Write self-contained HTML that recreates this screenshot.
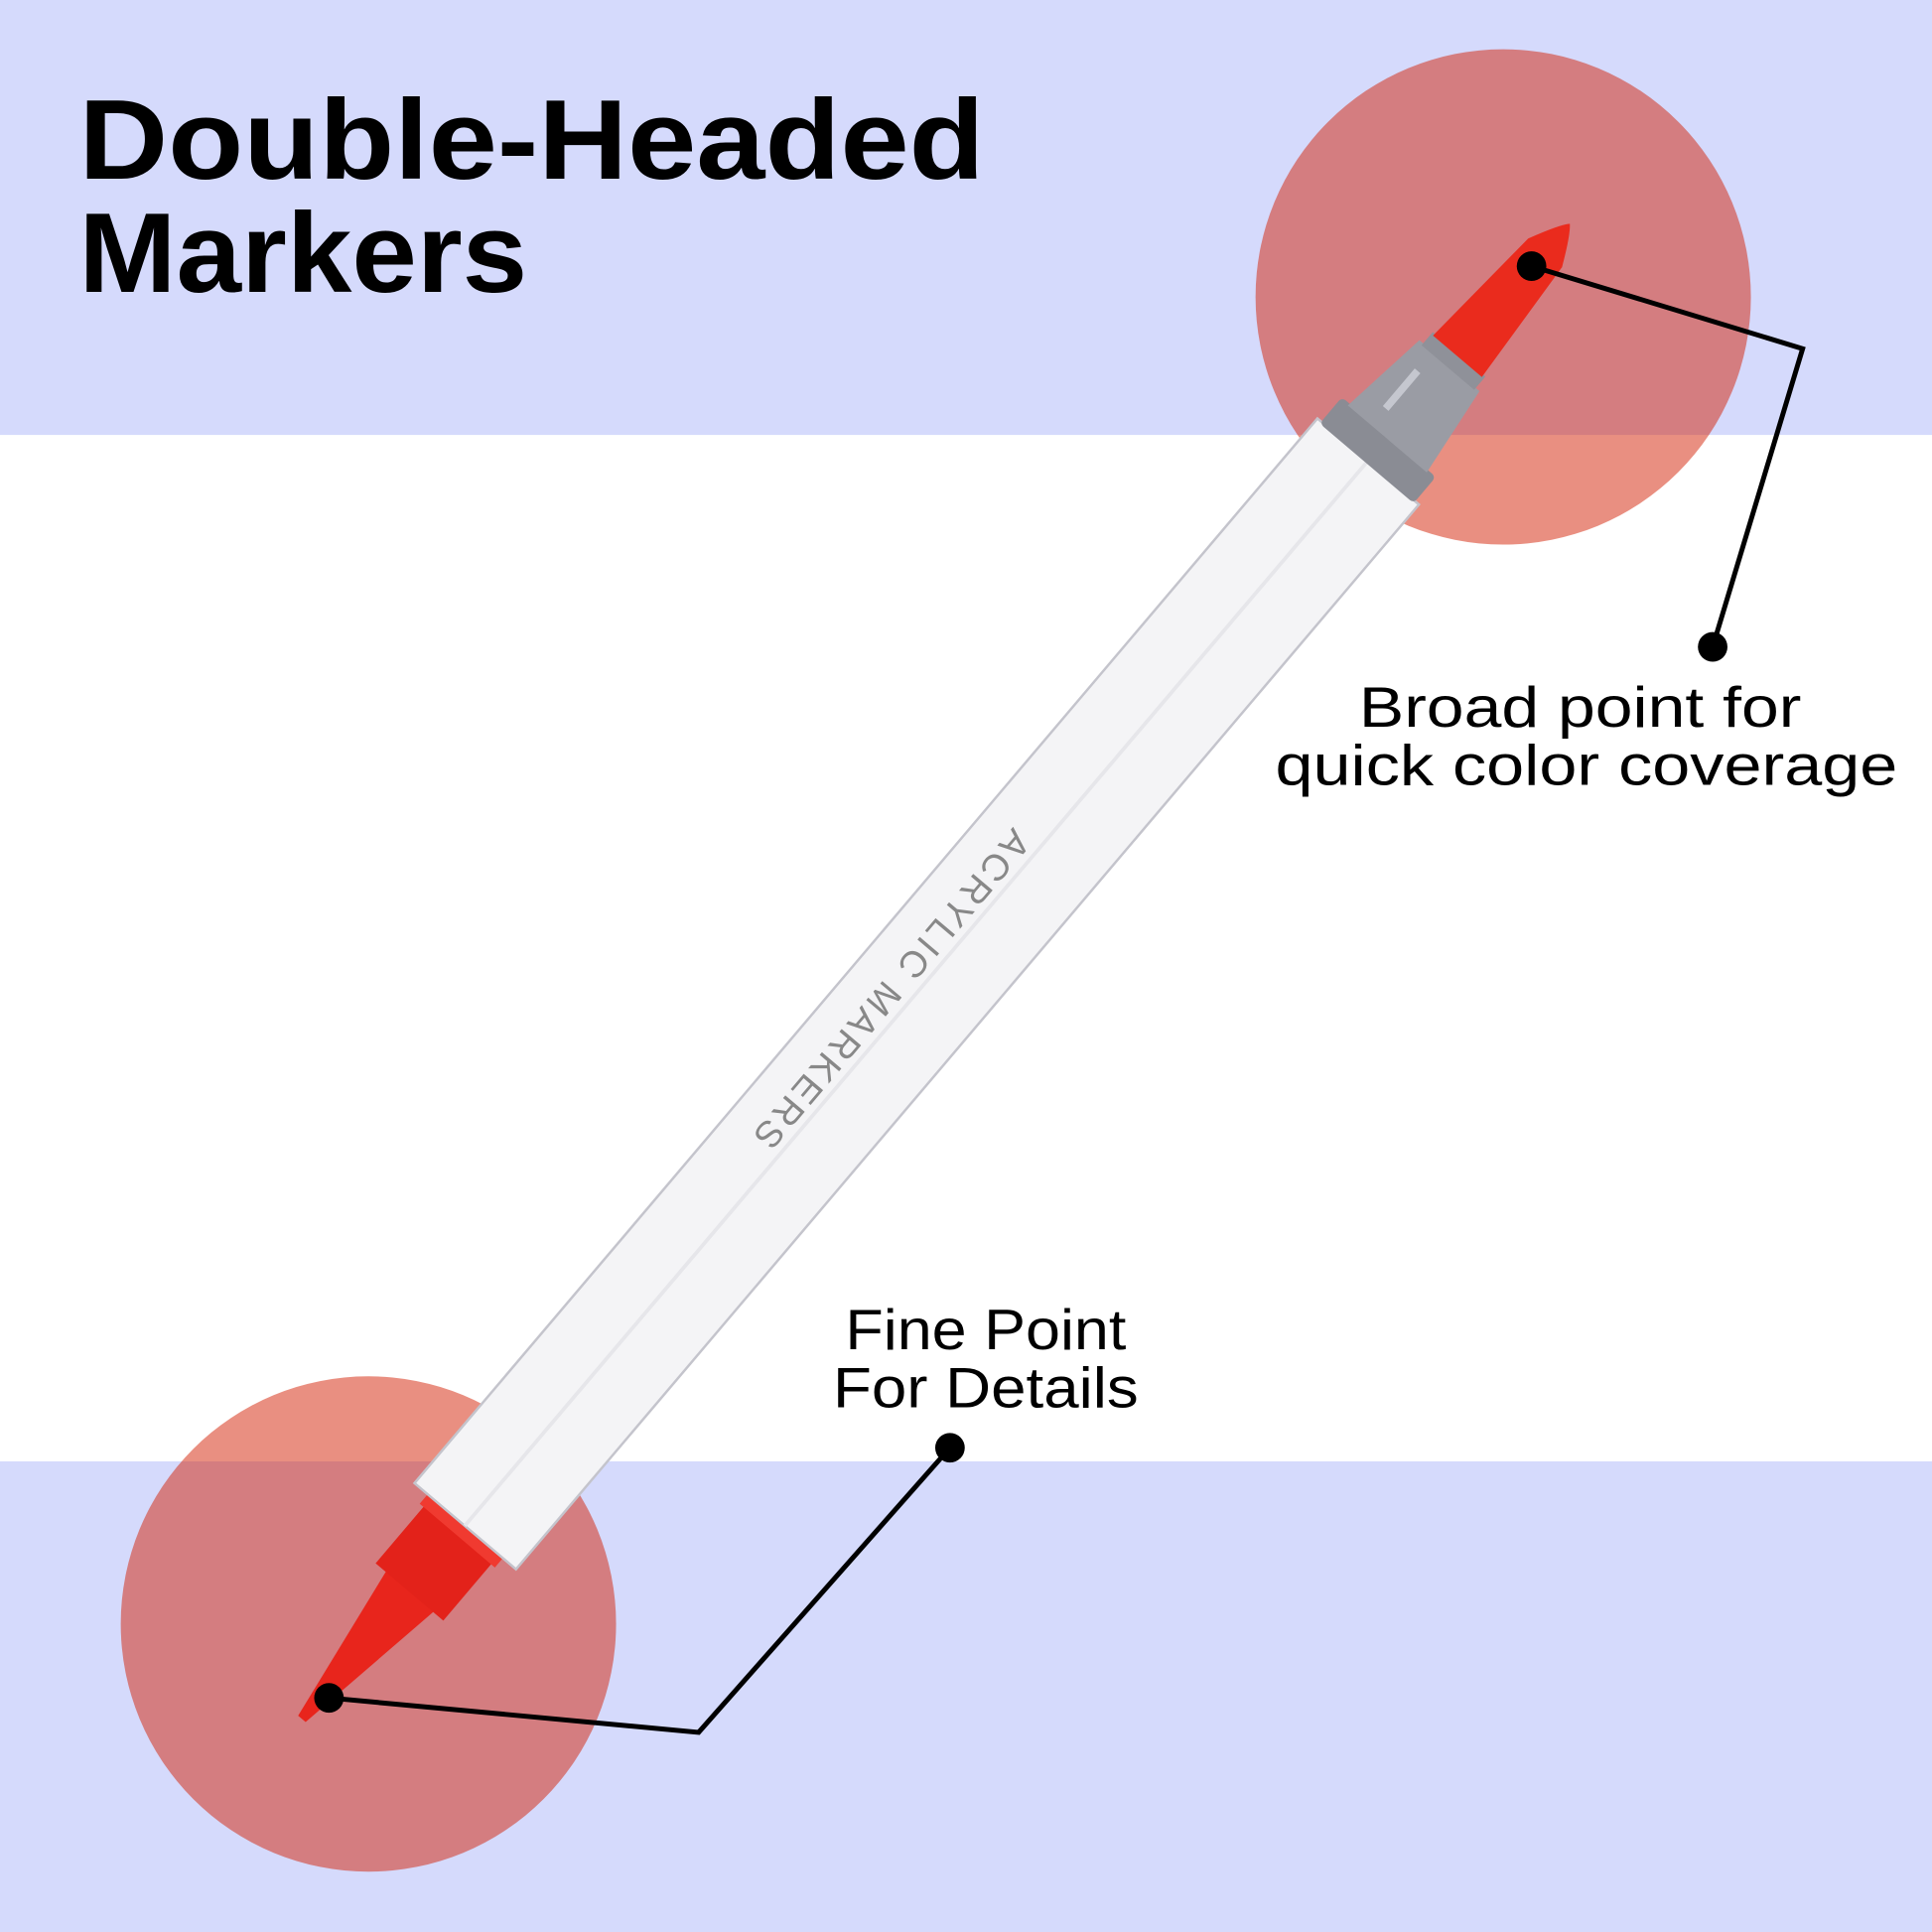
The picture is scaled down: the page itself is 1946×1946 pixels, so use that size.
<!DOCTYPE html>
<html><head><meta charset="utf-8"><style>
html,body{margin:0;padding:0;background:#fff}
svg{display:block}
</style></head><body>
<svg width="1946" height="1946" viewBox="0 0 1568 1568" xmlns="http://www.w3.org/2000/svg">
<rect x="0" y="0" width="1568" height="1568" fill="#fff"/>
<rect x="0" y="0" width="1568" height="353" fill="#d5dafc"/>
<rect x="0" y="1186" width="1568" height="382" fill="#d5dafc"/>
<circle cx="1220" cy="241" r="201" fill="rgb(211,31,4)" fill-opacity="0.5"/>
<circle cx="299" cy="1318" r="201" fill="rgb(211,31,4)" fill-opacity="0.5"/>
<g transform="translate(245,1395) rotate(-49.7)">
  <polygon points="0,-4 140,-26 140,26 0,4" fill="#e8251c"/>
  <rect x="135" y="-36" width="70" height="72" fill="#e3221a"/>
  <rect x="195" y="-40" width="12" height="80" fill="#f03a30"/>
  <rect x="205" y="-54" width="1133" height="108" fill="#f4f4f6" stroke="#c4c4cc" stroke-width="2"/>
  <rect x="205" y="-2" width="1133" height="3" fill="#e6e6ea"/>
  <text x="760" y="-8" font-family="Liberation Sans, sans-serif" font-size="30" fill="#888" transform="rotate(180 760 -18)" text-anchor="middle" letter-spacing="3">ACRYLIC MARKERS</text>
  <rect x="1336" y="-50" width="28" height="100" rx="4" fill="#8a8c94"/>
  <polygon points="1362,-42 1440,-32 1440,32 1362,42" fill="#9a9ca4"/>
  <rect x="1380" y="-20" width="40" height="6" fill="#c5c7cf"/>
  <rect x="1438" y="-28" width="14" height="56" fill="#8f9199"/>
  <path d="M1450,-26 L1560,-18 Q1585,-6 1591,0 Q1585,6 1560,18 L1450,26Z" fill="#ea2b1d"/>
</g>
<g font-family="Liberation Sans, sans-serif" font-weight="bold" font-size="92" fill="#000">
<text x="64" y="145" textLength="735" lengthAdjust="spacingAndGlyphs">Double-Headed</text>
<text x="64" y="237" textLength="364" lengthAdjust="spacingAndGlyphs">Markers</text>
</g>
<g font-family="Liberation Sans, sans-serif" font-size="46" fill="#000">
<text x="1103" y="590" textLength="359" lengthAdjust="spacingAndGlyphs">Broad point for</text>
<text x="1035" y="637" textLength="505" lengthAdjust="spacingAndGlyphs">quick color coverage</text>
<text x="686" y="1095" textLength="228" lengthAdjust="spacingAndGlyphs">Fine Point</text>
<text x="676" y="1142" textLength="248" lengthAdjust="spacingAndGlyphs">For Details</text>
</g>
<polyline points="1243,216 1463,283 1390,525" fill="none" stroke="#000" stroke-width="4"/>
<circle cx="1243" cy="216" r="12" fill="#000"/>
<circle cx="1390" cy="525" r="12" fill="#000"/>
<polyline points="267,1378 567,1406 771,1175" fill="none" stroke="#000" stroke-width="4"/>
<circle cx="267" cy="1378" r="12" fill="#000"/>
<circle cx="771" cy="1175" r="12" fill="#000"/>
</svg>
</body></html>
